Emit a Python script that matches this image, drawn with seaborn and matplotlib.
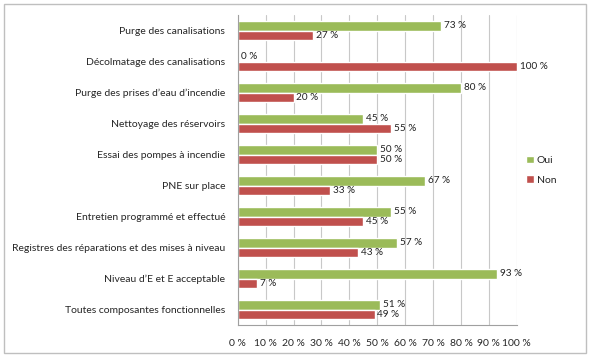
import matplotlib
matplotlib.use("Agg")
import matplotlib.pyplot as plt
from matplotlib.patches import Rectangle
from matplotlib.ticker import FixedLocator
import seaborn as sns
import pandas as pd

categories = [
    "Purge des canalisations",
    "Décolmatage des canalisations",
    "Purge des prises d\u2019eau d\u2019incendie",
    "Nettoyage des réservoirs",
    "Essai des pompes à incendie",
    "PNE sur place",
    "Entretien programmé et effectué",
    "Registres des réparations et des mises à niveau",
    "Niveau d\u2019E et E acceptable",
    "Toutes composantes fonctionnelles",
]
oui = [73, 0, 80, 45, 50, 67, 55, 57, 93, 51]
non = [27, 100, 20, 55, 50, 33, 45, 43, 7, 49]
series = ["Oui", "Non"]
x_ticks = [0, 10, 20, 30, 40, 50, 60, 70, 80, 90, 100]

df = pd.DataFrame({
    "categorie": categories * 2,
    "serie": ["Oui"] * len(categories) + ["Non"] * len(categories),
    "pct": oui + non,
})

sns.set_style("white")
plt.rcParams["font.family"] = ["Lato", "DejaVu Sans"]
fs = 7.5

fig = plt.figure(figsize=(5.9, 3.58), dpi=100)
ax = fig.add_axes([0.403, 0.092, 0.473, 0.866])

palette = {"Oui": "#9BBB59", "Non": "#C0504D"}
sns.barplot(data=df, y="categorie", x="pct", hue="serie", hue_order=series,
            order=categories, palette=palette, orient="h", width=0.6,
            saturation=1, ax=ax, legend=True)

for cont in ax.containers:
    labels = [f"{int(round(v))} %" for v in cont.datavalues]
    ax.bar_label(cont, labels=labels, padding=2, fontsize=7.2, color="#222222")

ax.set_xlim(0, 100)
ax.set_ylim(len(categories) - 0.5, -0.5)
ax.set_xticks(x_ticks)
ax.set_xticklabels([f"{t} %" for t in x_ticks], fontsize=fs)
ax.tick_params(axis="y", labelsize=fs, length=0, pad=9)
ax.yaxis.set_minor_locator(FixedLocator([i - 0.5 for i in range(len(categories) + 1)]))
ax.tick_params(axis="y", which="minor", length=4, color="#A0A0A0", direction="out")
ax.tick_params(axis="x", length=4, color="#A0A0A0", direction="out", pad=6)
ax.xaxis.grid(True, color="#C8C8C8", linewidth=0.8)
ax.set_axisbelow(True)
for s in ["top", "right"]:
    ax.spines[s].set_visible(False)
for s in ["left", "bottom"]:
    ax.spines[s].set_color("#A0A0A0")
    ax.spines[s].set_linewidth(0.8)
ax.set_xlabel("")
ax.set_ylabel("")

leg = ax.legend(loc="center left", bbox_to_anchor=(1.0, 0.5), frameon=False,
                fontsize=fs, handlelength=0.7, handleheight=0.7,
                handletextpad=0.3, labelspacing=1.0)

fig.patches.append(Rectangle((0.006, 0.015), 0.988, 0.975, transform=fig.transFigure,
                             fill=False, edgecolor="#BFBFBF", linewidth=1))

fig.savefig("out.png", dpi=100)
